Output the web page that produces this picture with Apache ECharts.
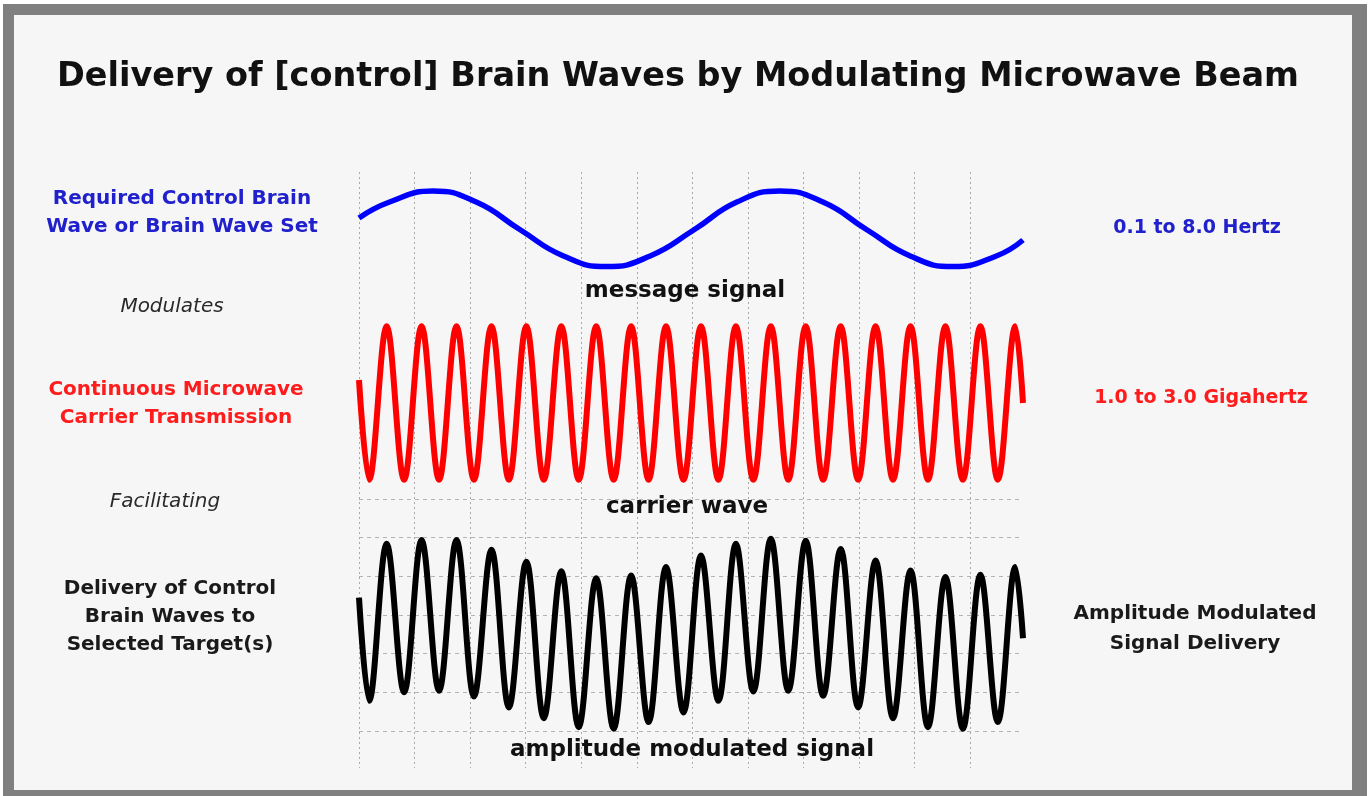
<!DOCTYPE html>
<html><head><meta charset="utf-8">
<script src="https://cdn.jsdelivr.net/npm/echarts@6/dist/echarts.min.js"></script>
<style>html,body{margin:0;padding:0;background:#fff}#c{width:1371px;height:796px}</style>
</head><body><div id="c"></div>
<script>
// ---------- data ----------
const titleText = 'Delivery of [control] Brain Waves by Modulating Microwave Beam';
const leftLabels = ['Required Control Brain\nWave or Brain Wave Set', 'Modulates', 'Continuous Microwave\nCarrier Transmission', 'Facilitating', 'Delivery of Control\nBrain Waves to\nSelected Target(s)'];
const rightLabels = ['0.1 to 8.0 Hertz', '1.0 to 3.0 Gigahertz', 'Amplitude Modulated\nSignal Delivery'];
const waveNames = ['message signal', 'carrier wave', 'amplitude modulated signal'];

// x in grid divisions (0..11.95), y in each panel's own units
const messagePoints = [[0, 0.29], [0.55, 0.71], [1.33, 1.0], [2.11, 0.71], [2.90, -0.02], [3.68, -0.71], [4.46, -0.99],
  [5.24, -0.71], [6.03, -0.02], [6.80, 0.71], [7.57, 1.0], [8.35, 0.71], [9.14, -0.02], [9.92, -0.71], [10.69, -0.99],
  [11.47, -0.71], [11.95, -0.29]];

const carrierPoints = [[0, 0.30],
  [0.184, -1], [0.498, 1], [0.812, -1], [1.126, 1], [1.441, -1], [1.755, 1], [2.069, -1], [2.384, 1],
  [2.698, -1], [3.012, 1], [3.326, -1], [3.641, 1], [3.955, -1], [4.269, 1], [4.583, -1], [4.898, 1],
  [5.212, -1], [5.526, 1], [5.840, -1], [6.155, 1], [6.469, -1], [6.783, 1], [7.097, -1], [7.412, 1],
  [7.726, -1], [8.040, 1], [8.354, -1], [8.669, 1], [8.983, -1], [9.297, 1], [9.611, -1], [9.926, 1],
  [10.240, -1], [10.554, 1], [10.868, -1], [11.183, 1], [11.497, -1], [11.811, 1], [11.95, 0.0]];

const amPoints = [[0, 0.45],
  [0.184, -2.22], [0.498, 1.84], [0.812, -2.00], [1.126, 1.94], [1.441, -1.96], [1.755, 1.94], [2.069, -2.11], [2.384, 1.69],
  [2.698, -2.39], [3.012, 1.38], [3.326, -2.67], [3.641, 1.13], [3.955, -2.90], [4.269, 0.95], [4.583, -2.94], [4.898, 1.02],
  [5.212, -2.77], [5.526, 1.24], [5.840, -2.52], [6.155, 1.54], [6.469, -2.22], [6.783, 1.84], [7.097, -1.98], [7.412, 1.97],
  [7.726, -1.96], [8.040, 1.92], [8.354, -2.09], [8.669, 1.71], [8.983, -2.39], [9.297, 1.41], [9.611, -2.67], [9.926, 1.15],
  [10.240, -2.90], [10.554, 0.98], [10.868, -2.94], [11.183, 1.04], [11.497, -2.77], [11.811, 1.24], [11.95, -0.6]];

// ---------- chart ----------
const chart = echarts.init(document.getElementById('c'), null, {renderer: 'canvas'});
const FONT = '"DejaVu Sans", Verdana, sans-serif';
const X_MAX = 11.95;
const GL = 359, GW = 664;

function hiddenX(gi, showSplit) {
  return {
    type: 'value', gridIndex: gi, min: 0, max: X_MAX, interval: 1,
    axisLine: {show: false}, axisTick: {show: false}, axisLabel: {show: false},
    splitLine: {show: !!showSplit, showMaxLine: false, lineStyle: {color: '#a9a9a9', width: 1, type: [2, 3]}}
  };
}
function yAx(gi, min, max, interval, showSplit) {
  return {
    type: 'value', gridIndex: gi, min: min, max: max, interval: interval,
    axisLine: {show: false}, axisTick: {show: false}, axisLabel: {show: false},
    splitLine: {show: !!showSplit, lineStyle: {color: '#b4b4b4', width: 1, type: [4, 4]}}
  };
}
function txt(text, x, y, opts) {
  return {
    type: 'text', z: 100,
    style: Object.assign({
      text: text, x: x, y: y,
      align: 'center', verticalAlign: 'middle',
      textAlign: 'center', textVerticalAlign: 'middle',
      fontFamily: FONT, fontWeight: 'bold', fontSize: 20, fill: '#1a1a1a'
    }, opts || {})
  };
}

const option = {
  animation: false,
  backgroundColor: '#ffffff',
  grid: [
    {left: GL, width: GW, top: 172, height: 596},   // background vertical grid
    {left: GL, width: GW, top: 172, height: 114},   // message
    {left: GL, width: GW, top: 307, height: 192},   // carrier
    {left: GL, width: GW, top: 499, height: 232}    // AM
  ],
  xAxis: [hiddenX(0, true), hiddenX(1), hiddenX(2), hiddenX(3)],
  yAxis: [yAx(0, 0, 1, 1, false), yAx(1, -1.5, 1.5, 0.5, false), yAx(2, -1.25, 1.25, 0.25, false), yAx(3, -3, 3, 1, true)],
  series: [
    {type: 'line', name: waveNames[0], xAxisIndex: 1, yAxisIndex: 1, data: messagePoints, smooth: 0.5,
     showSymbol: false, clip: false, lineStyle: {color: '#0000ff', width: 5.5}, z: 5},
    {type: 'line', name: waveNames[1], xAxisIndex: 2, yAxisIndex: 2, data: carrierPoints, smooth: 0.36,
     showSymbol: false, clip: false, lineStyle: {color: '#ff0000', width: 6}, z: 5},
    {type: 'line', name: waveNames[2], xAxisIndex: 3, yAxisIndex: 3, data: amPoints, smooth: 0.36,
     showSymbol: false, clip: false, lineStyle: {color: '#000000', width: 6}, z: 5}
  ],
  graphic: {
    elements: [
      {type: 'rect', z: -100, shape: {x: 3, y: 4, width: 1364, height: 792}, style: {fill: '#808080'}},
      {type: 'rect', z: -99, shape: {x: 14, y: 15, width: 1338, height: 775}, style: {fill: '#f6f6f6'}},
      txt(titleText, 678, 77, {fontSize: 33.5, fill: '#111111'}),
      txt(leftLabels[0], 182, 213, {fill: '#2020cc', lineHeight: 28}),
      txt(leftLabels[1], 172, 307, {fontWeight: 'normal', fontStyle: 'italic', fill: '#2a2a2a', fontSize: 20}),
      txt(leftLabels[2], 176, 404, {fill: '#ff1c1c', lineHeight: 28}),
      txt(leftLabels[3], 165, 502, {fontWeight: 'normal', fontStyle: 'italic', fill: '#2a2a2a', fontSize: 20}),
      txt(leftLabels[4], 170, 617, {fill: '#1a1a1a', lineHeight: 28}),
      txt(rightLabels[0], 1197, 228, {fill: '#2020cc', fontSize: 19}),
      txt(rightLabels[1], 1201, 398, {fill: '#ff1c1c', fontSize: 19}),
      txt(rightLabels[2], 1195, 629, {fill: '#1a1a1a', lineHeight: 30}),
      txt(waveNames[0], 685, 291, {fontSize: 23, fill: '#111111'}),
      txt(waveNames[1], 687, 507, {fontSize: 23, fill: '#111111'}),
      txt(waveNames[2], 692, 750, {fontSize: 23, fill: '#111111'})
    ]
  }
};
chart.setOption(option);
</script>
</body></html>
